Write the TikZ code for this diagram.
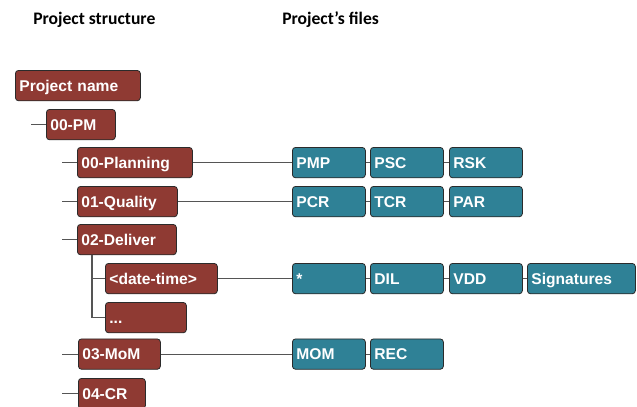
\documentclass[tikz,border=0pt]{standalone}
\usepackage{fontspec}
\setmainfont{Liberation Sans}
\newfontfamily\headfont{Carlito}
\definecolor{boxred}{HTML}{8F3A33}
\definecolor{boxteal}{HTML}{2F8196}
\definecolor{edgecol}{HTML}{2B2B2B}
\definecolor{linecol}{HTML}{555555}
\begin{document}
\begin{tikzpicture}[x=0.75pt,y=-0.75pt,
  basebox/.style={rectangle, rounded corners=2.4pt, draw=edgecol, line width=0.6pt,
    anchor=north west, inner xsep=3pt, inner ysep=0pt, minimum height=22.8pt,
    text height=8.4pt, text depth=0pt, align=left, text=white,
    font=\fontsize{11.7pt}{13pt}\selectfont\bfseries},
  redbox/.style={basebox, fill=boxred, text width=#1},
  tealbox/.style={basebox, fill=boxteal, text width=#1},
  conn/.style={draw=linecol, line width=0.8pt},
  head/.style={anchor=base west, inner sep=0pt, font=\headfont\fontsize{13.2pt}{15pt}\selectfont\bfseries}
]
\useasboundingbox (0,0) rectangle (637,407);

% headers
\node[head] (h1) at (33,25) {Project structure};
\node[head] (h2) at (282,25) {Project’s files};

% left tree
\node[redbox=87.75pt] (pn) at (15,70) {Project name};
\node[redbox=45.75pt] (pm) at (46,109) {00-PM};
\node[redbox=80.25pt] (plan) at (77,147) {00-Planning};
\node[redbox=69pt] (qual) at (77,186) {01-Quality};
\node[redbox=68.25pt] (deliv) at (77,224) {02-Deliver};
\node[redbox=78pt] (dt) at (105,263) {<date-time>};
\node[redbox=54.75pt] (dots) at (105,302) {...};
\node[redbox=55.5pt] (mom) at (78,338.5) {03-MoM};
\node[redbox=44.25pt] (cr) at (78,378) {04-CR};

% right files
\node[tealbox=48.75pt] (pmp) at (292,147) {PMP};
\node[tealbox=48.75pt] (psc) at (370,147) {PSC};
\node[tealbox=48.75pt] (rsk) at (449,147) {RSK};
\node[tealbox=48.75pt] (pcr) at (292,186) {PCR};
\node[tealbox=48.75pt] (tcr) at (370,186) {TCR};
\node[tealbox=48.75pt] (par) at (449,186) {PAR};
\node[tealbox=48.75pt] (star) at (292,263) {*};
\node[tealbox=48.75pt] (dil) at (370,263) {DIL};
\node[tealbox=48.75pt] (vdd) at (449,263) {VDD};
\node[tealbox=75pt] (sig) at (527,263) {Signatures};
\node[tealbox=48.75pt] (momf) at (292,338.5) {MOM};
\node[tealbox=48.75pt] (rec) at (370,338.5) {REC};

% stubs
\coordinate (x1) at (31,0);
\coordinate (x2) at (62,0);
\coordinate (dtop) at (92,255);
\draw[conn] (pm.west) -- (pm.west -| x1);
\draw[conn] (plan.west) -- (plan.west -| x2);
\draw[conn] (qual.west) -- (qual.west -| x2);
\draw[conn] (deliv.west) -- (deliv.west -| x2);
\draw[conn] (mom.west) -- (mom.west -| x2);
\draw[conn] (cr.west) -- (cr.west -| x2);
\draw[conn] (dtop) |- (dt.west);
\draw[conn] (dtop) |- (dots.west);

% long links
\draw[conn] (plan.east) -- (pmp.west);
\draw[conn] (qual.east) -- (pcr.west);
\draw[conn] (dt.east) -- (star.west);
\draw[conn] (mom.east) -- (momf.west);

% short links
\draw[conn] (pmp.east) -- (psc.west);
\draw[conn] (psc.east) -- (rsk.west);
\draw[conn] (pcr.east) -- (tcr.west);
\draw[conn] (tcr.east) -- (par.west);
\draw[conn] (star.east) -- (dil.west);
\draw[conn] (dil.east) -- (vdd.west);
\draw[conn] (vdd.east) -- (sig.west);
\draw[conn] (momf.east) -- (rec.west);
\end{tikzpicture}
\end{document}
